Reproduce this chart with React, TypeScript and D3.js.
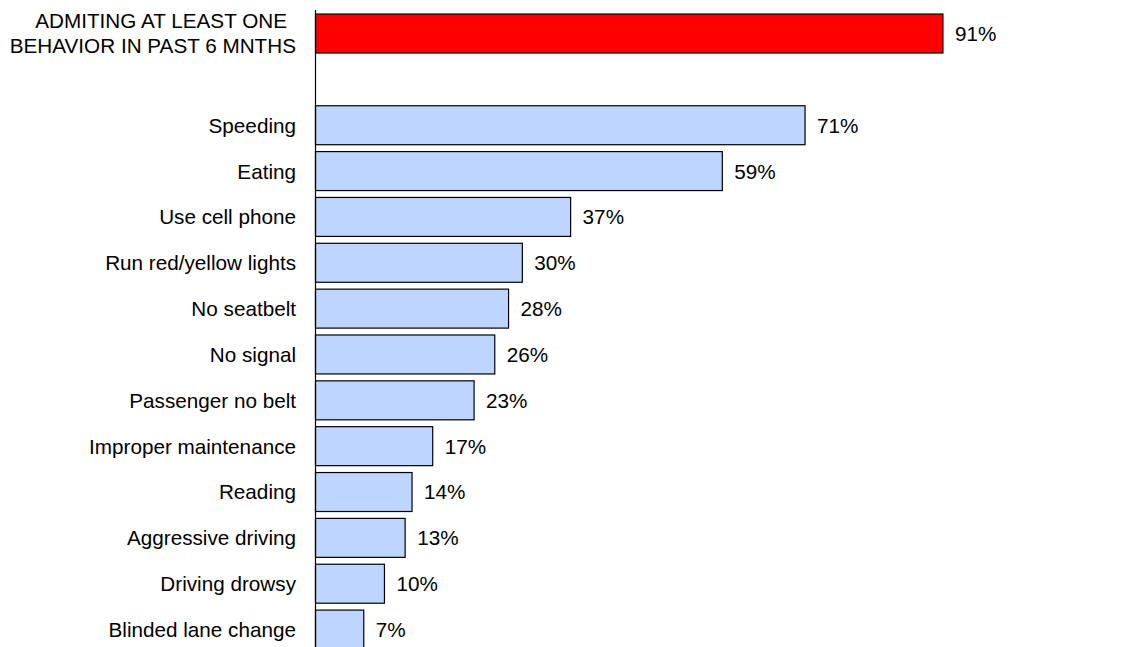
import React from "react";
import * as d3 from "d3";

const summaryLabel = ["ADMITING AT LEAST ONE", "BEHAVIOR IN PAST 6 MNTHS"];
const summaryValue = 91;

const behaviors = [
  "Speeding",
  "Eating",
  "Use cell phone",
  "Run red/yellow lights",
  "No seatbelt",
  "No signal",
  "Passenger no belt",
  "Improper maintenance",
  "Reading",
  "Aggressive driving",
  "Driving drowsy",
  "Blinded lane change",
];
const behaviorValues = [71, 59, 37, 30, 28, 26, 23, 17, 14, 13, 10, 7];

const W = 1131;
const H = 647;
const FONT = "Arial, 'Liberation Sans', sans-serif";
const FS = 20.7;

export default function App() {
  const slots = ["summary", "gap", ...behaviors];
  const y = d3
    .scaleBand<string>()
    .domain(slots)
    .range([10.6, 652.5])
    .paddingInner(0.15)
    .paddingOuter(0.075);
  const x = d3.scaleLinear().domain([0, 100]).range([315.5, 1005]);
  const bw = y.bandwidth();

  const rows = [
    { key: "summary", value: summaryValue, fill: "#ff0000" },
    ...behaviors.map((b, i) => ({ key: b, value: behaviorValues[i], fill: "#bdd5ff" })),
  ];

  const summaryMid = y("summary")! + bw / 2;

  return (
    <svg
      width={W}
      height={H}
      style={{ position: "absolute", left: 0, top: 0, background: "#fff" }}
      fontFamily={FONT}
    >
      {rows.map((r) => {
        const y0 = y(r.key)!;
        return (
          <g key={r.key}>
            <rect
              x={x(0)}
              y={y0}
              width={x(r.value) - x(0)}
              height={bw}
              fill={r.fill}
              stroke="#000"
              strokeWidth={1.2}
            />
            <text
              x={x(r.value) + 12}
              y={y0 + bw / 2}
              dy="0.36em"
              fontSize={FS}
              fill="#000"
            >
              {r.value}%
            </text>
          </g>
        );
      })}
      {behaviors.map((b) => (
        <text
          key={b}
          x={296}
          y={y(b)! + bw / 2}
          dy="0.36em"
          textAnchor="end"
          fontSize={FS}
          fill="#000"
        >
          {b}
        </text>
      ))}
      <text textAnchor="end" fontSize={FS} fill="#000">
        {summaryLabel.map((line, i) => (
          <tspan key={i} x={i === 0 ? 287 : 296} y={summaryMid - 5.2 + i * 24.7}>
            {line}
          </tspan>
        ))}
      </text>
      <line x1={x(0)} x2={x(0)} y1={10} y2={H} stroke="#000" strokeWidth={1.2} />
    </svg>
  );
}
